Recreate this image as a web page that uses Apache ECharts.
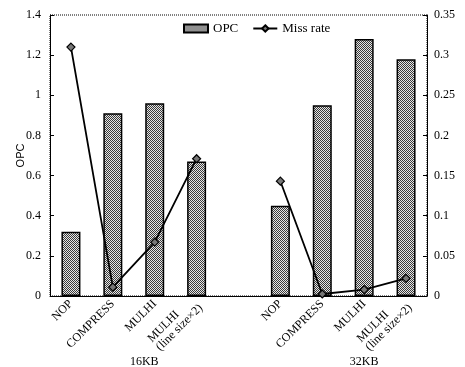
<!DOCTYPE html>
<html><head><meta charset="utf-8">
<script src="https://cdn.jsdelivr.net/npm/echarts@6/dist/echarts.min.js"></script>
<style>html,body{margin:0;padding:0;background:#fff}#c{width:465px;height:367px}</style>
</head><body><div id="c"></div>
<script>
var categories = ['NOP','COMPRESS','MULHI','MULHI\n(line size×2)','','NOP','COMPRESS','MULHI','MULHI\n(line size×2)'];
var groupLabels = ['','','','','','','','','','16KB','','','','','','','','','','','','','','','','','','','','','32KB','','','','','',''];
var opc = [0.32, 0.91, 0.96, 0.67, '-', 0.45, 0.95, 1.28, 1.18];
var missRate = [0.31, 0.011, 0.067, 0.171, '-', 0.143, 0.0025, 0.008, 0.022];
var leftTicks = {min: 0, max: 1.4, interval: 0.2};
var rightTicks = {min: 0, max: 0.35, interval: 0.05};

var pc = document.createElement('canvas');
pc.width = 2; pc.height = 2;
var g = pc.getContext('2d');
g.fillStyle = '#e6e6e6'; g.fillRect(0,0,2,2);
g.fillStyle = '#3a3a3a';
g.fillRect(0,0,1,1); g.fillRect(1,1,1,1);
var pattern = {image: pc, repeat: 'repeat'};

var serif = 'Liberation Serif';
var chart = echarts.init(document.getElementById('c'));
chart.setOption({
  animation: false,
  backgroundColor: '#fff',
  grid: {left: 50, right: 38, top: 15, bottom: 71, outerBoundsMode: 'none', show: true, borderColor: '#000', borderWidth: 1, borderType: 'dotted'},
  legend: {
    left: 178, top: 17, itemGap: 14, itemWidth: 24, itemHeight: 8,
    textStyle: {fontFamily: serif, fontSize: 13, color: '#000'},
    data: [
      {name: 'OPC', icon: 'rect'},
      {name: 'Miss rate'}
    ]
  },
  xAxis: [{
    type: 'category', data: categories, position: 'bottom',
    axisLine: {lineStyle: {color: '#000', width: 1}},
    axisTick: {inside: true, length: 4, lineStyle: {color: '#000'}},
    axisLabel: {
      rotate: 45, interval: 0, margin: 6, color: '#000',
      fontFamily: serif, fontSize: 12, lineHeight: 12,
      formatter: function (v) {
        if (v.indexOf('\n') >= 0) {
          var p = v.split('\n');
          return '{c|' + p[0] + '}\n{c|' + p[1] + '}';
        }
        return v;
      },
      rich: {c: {align: 'left', fontFamily: serif, fontSize: 12, lineHeight: 12, color: '#000'}}
    }
  }, {
    type: 'category', data: groupLabels, position: 'bottom', boundaryGap: false, offset: 52,
    axisLine: {show: false}, axisTick: {show: false},
    axisLabel: {interval: 0, color: '#000', fontFamily: serif, fontSize: 12}
  }],
  yAxis: [{
    type: 'value', min: leftTicks.min, max: leftTicks.max, interval: leftTicks.interval,
    name: 'OPC', nameLocation: 'middle', nameGap: 24, nameRotate: 90, nameMoveOverlap: false,
    nameTextStyle: {fontFamily: 'Liberation Sans', fontSize: 11, color: '#000'},
    axisLine: {show: true, lineStyle: {color: '#000'}},
    axisTick: {show: true, inside: true, length: 4, lineStyle: {color: '#000'}},
    splitLine: {show: false},
    axisLabel: {color: '#000', fontFamily: serif, fontSize: 12, margin: 9}
  }, {
    type: 'value', min: rightTicks.min, max: rightTicks.max, interval: rightTicks.interval,
    position: 'right',
    axisLine: {show: true, lineStyle: {color: '#000'}},
    axisTick: {show: true, inside: true, length: 4, lineStyle: {color: '#000'}},
    splitLine: {show: false},
    axisLabel: {color: '#000', fontFamily: serif, fontSize: 12, margin: 7}
  }],
  series: [{
    name: 'OPC', type: 'bar', data: opc, barWidth: 19,
    itemStyle: {color: pattern, borderColor: '#000', borderWidth: 1.5}
  }, {
    name: 'Miss rate', type: 'line', yAxisIndex: 1, data: missRate,
    symbol: 'diamond', symbolSize: 8, showAllSymbol: true,
    lineStyle: {color: '#000', width: 1.8},
    itemStyle: {color: '#777', borderColor: '#000', borderWidth: 1.2}
  }]
});
</script></body></html>
